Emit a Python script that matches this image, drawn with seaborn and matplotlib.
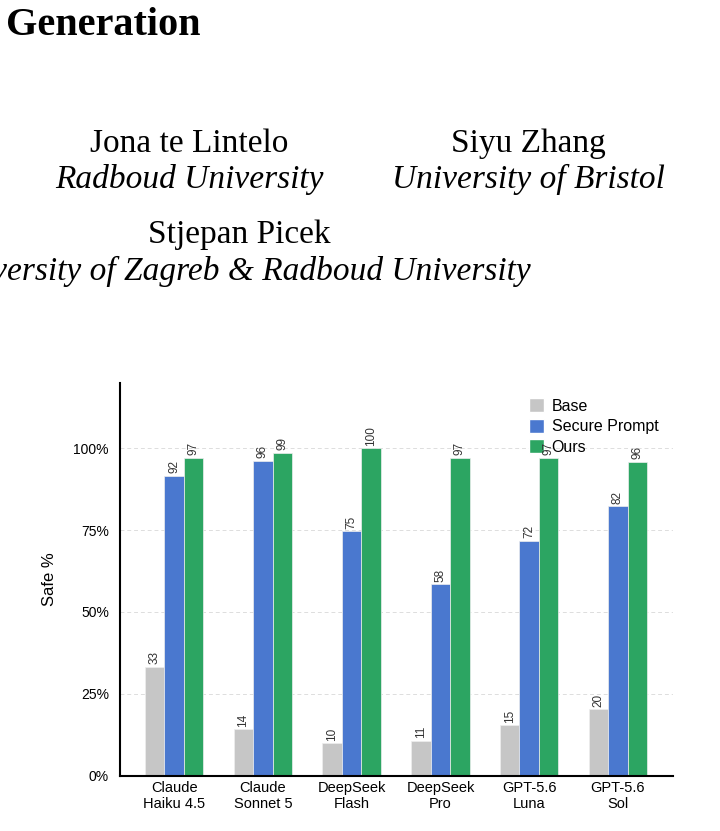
import matplotlib
matplotlib.use("Agg")
import matplotlib.pyplot as plt
import matplotlib.patches as mpatches
from matplotlib.ticker import PercentFormatter
import pandas as pd
import seaborn as sns

# values (safe %)
models = ["Claude\nHaiku 4.5", "Claude\nSonnet 5", "DeepSeek\nFlash",
          "DeepSeek\nPro", "GPT-5.6\nLuna", "GPT-5.6\nSol"]
methods = ["Base", "Secure Prompt", "Ours"]
base = [33.1, 14.1, 9.8, 10.6, 15.3, 20.2]
secure_prompt = [91.6, 96.3, 74.6, 58.4, 71.8, 82.3]
ours = [97.2, 98.6, 100.0, 97.2, 97.2, 95.8]
colors = ["#c6c6c6", "#4a78cf", "#2ca562"]

W, H = 720, 831


def px(x, y):
    return x / W, 1 - y / H


sns.set_style("white", rc={"text.color": "black", "axes.labelcolor": "black",
                           "xtick.color": "black", "ytick.color": "black"})
plt.rcParams["font.family"] = ["Liberation Sans", "DejaVu Sans"]

df = pd.DataFrame({
    "model": models * 3,
    "method": [m for m in methods for _ in models],
    "safe": base + secure_prompt + ours,
})

fig = plt.figure(figsize=(W / 100, H / 100), dpi=100)

# page header (cropped paper page)
serif = ["Liberation Serif", "DejaVu Serif"]
hdr = dict(fontsize=24, family=serif, va="baseline")
fig.text(*px(6, 35), "Generation", fontsize=29, fontweight="bold",
         family=serif, ha="left", va="baseline")
fig.text(*px(189, 152), "Jona te Lintelo", ha="center", **hdr)
fig.text(*px(189, 188), "Radboud University", ha="center", style="italic", **hdr)
fig.text(*px(528, 152), "Siyu Zhang", ha="center", **hdr)
fig.text(*px(528, 188), "University of Bristol", ha="center", style="italic", **hdr)
fig.text(*px(239, 243), "Stjepan Picek", ha="center", **hdr)
fig.text(*px(531, 280), "University of Zagreb & Radboud University",
         ha="right", style="italic", **hdr)

# chart
l, r, t, b = 120, 673, 383, 775.5
ax = fig.add_axes([l / W, 1 - b / H, (r - l) / W, (b - t) / H])
sns.barplot(data=df, x="model", y="safe", hue="method", order=models,
            hue_order=methods, palette=colors, saturation=1, width=0.66,
            edgecolor="#eeeeee", linewidth=0.5, ax=ax, legend=False, zorder=2)

for cont in ax.containers:
    ax.bar_label(cont, labels=[f"{v:.0f}" for v in cont.datavalues],
                 rotation=90, padding=2, fontsize=8.5, color="#333333", zorder=7)

ax.set_ylim(0, 120)
ax.set_xlim(-0.61, 5.62)
ax.set_yticks([0, 25, 50, 75, 100])
ax.yaxis.set_major_formatter(PercentFormatter(decimals=0))
ax.yaxis.grid(True, linestyle=(0, (4, 3)), color="#dddddd", linewidth=0.7, zorder=0)
ax.set_axisbelow(True)
ax.set_xlabel("")
ax.set_ylabel("Safe %", fontsize=12, labelpad=12)
ax.tick_params(axis="y", length=4, width=1, labelsize=10, pad=4)
ax.tick_params(axis="x", length=0, labelsize=10.5, pad=4)
for side in ["top", "right"]:
    ax.spines[side].set_visible(False)
for side in ["left", "bottom"]:
    ax.spines[side].set_color("black")
    ax.spines[side].set_linewidth(1.5)

handles = [mpatches.Patch(facecolor=c, label=m) for c, m in zip(colors, methods)]
ax.legend(handles=handles, loc="upper left", frameon=False, fontsize=11.5,
          bbox_to_anchor=px(518, 387), bbox_transform=fig.transFigure,
          handlelength=0.95, handleheight=1.0, handletextpad=0.45,
          labelspacing=0.3, borderpad=0.2)

fig.savefig("out.png", dpi=100)
